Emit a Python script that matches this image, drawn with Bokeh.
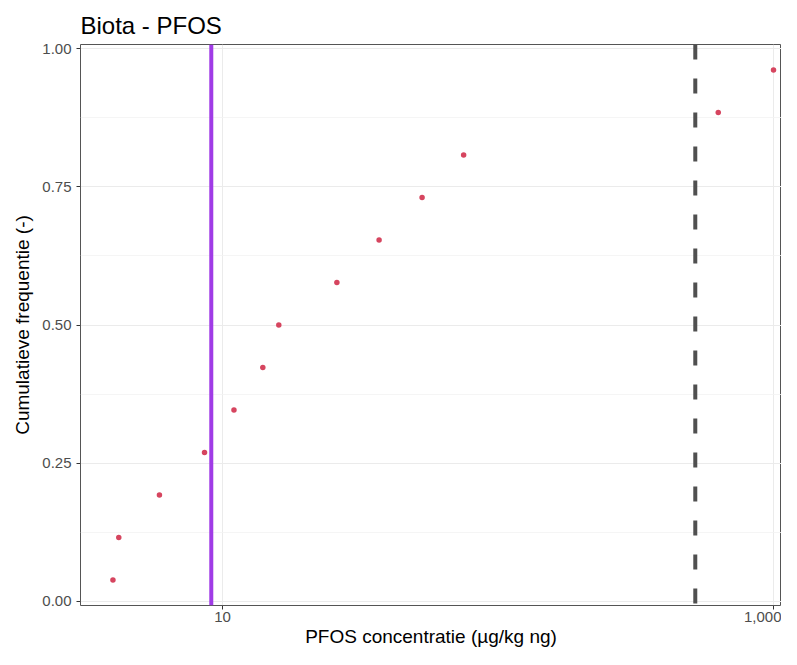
import numpy as np
from bokeh.plotting import figure
from bokeh.models import (Range1d, FixedTicker, NumeralTickFormatter, Span, ColumnDataSource)
from bokeh.embed import file_html
from bokeh.resources import INLINE

# Data
concentration = [4.0, 4.2, 5.9, 8.6, 11.0, 14.0, 16.0, 26.0, 37.0, 53.0, 75.0, 630.0, 1000.0]
cum_freq = [0.038, 0.115, 0.192, 0.269, 0.346, 0.423, 0.500, 0.577, 0.654, 0.731, 0.808, 0.885, 0.962]
purple_threshold = 9.1
dashed_threshold = 520.0
x_ticks = [10, 1000]
y_ticks = [0.0, 0.25, 0.5, 0.75, 1.0]
y_minor = [0.125, 0.375, 0.625, 0.875]

FONT = "Liberation Sans"

p = figure(width=781, height=649, x_axis_type="log", output_backend="svg",
           toolbar_location=None, title="Biota - PFOS",
           x_range=Range1d(3.05, 1069), y_range=Range1d(-0.008, 1.008),
           min_border_left=80, min_border_right=0, min_border_top=44, min_border_bottom=0)

p.title.text_font = FONT
p.title.text_font_size = "24px"
p.title.text_font_style = "normal"
p.title.text_color = "#000000"
p.title.offset = 0
p.title.standoff = 12

p.background_fill_color = "white"
p.outline_line_color = "#555555"
p.outline_line_width = 1

# axes
for ax in (p.xaxis[0], p.yaxis[0]):
    ax.axis_line_color = None
    ax.major_tick_line_color = "#333333"
    ax.major_tick_in = 0
    ax.major_tick_out = 4
    ax.minor_tick_line_color = None
    ax.major_label_text_font = FONT
    ax.major_label_text_font_size = "15px"
    ax.major_label_text_color = "#4d4d4d"
    ax.axis_label_text_font = FONT
    ax.axis_label_text_font_size = "19px"
    ax.axis_label_text_font_style = "normal"
    ax.axis_label_text_color = "#000000"

p.xaxis.major_label_standoff = 2
p.xaxis.axis_label_standoff = 1
p.yaxis.major_label_standoff = 5
p.yaxis.axis_label_standoff = 6

p.xaxis.ticker = FixedTicker(ticks=x_ticks, minor_ticks=[])
p.xaxis.formatter = NumeralTickFormatter(format="0,0")
p.xaxis.axis_label = "PFOS concentratie (µg/kg ng)"
p.yaxis.ticker = FixedTicker(ticks=y_ticks, minor_ticks=y_minor)
p.yaxis.formatter = NumeralTickFormatter(format="0.00")
p.yaxis.axis_label = "Cumulatieve frequentie (-)"

p.xgrid.grid_line_color = "#ebebeb"
p.xgrid.grid_line_width = 1
p.xgrid.minor_grid_line_color = None
p.ygrid.grid_line_color = "#ebebeb"
p.ygrid.grid_line_width = 1.2
p.ygrid.minor_grid_line_color = "#f2f2f2"
p.ygrid.minor_grid_line_width = 0.8

# threshold lines
p.add_layout(Span(location=purple_threshold, dimension="height",
                  line_color="#a03be6", line_width=4))
p.add_layout(Span(location=dashed_threshold, dimension="height",
                  line_color="#505050", line_width=4, line_dash="15 19"))

src = ColumnDataSource(dict(x=concentration, y=cum_freq))
p.scatter("x", "y", source=src, size=5.5, fill_color="#d6455f", line_color=None)

open("out.html", "w").write(file_html(p, INLINE))
